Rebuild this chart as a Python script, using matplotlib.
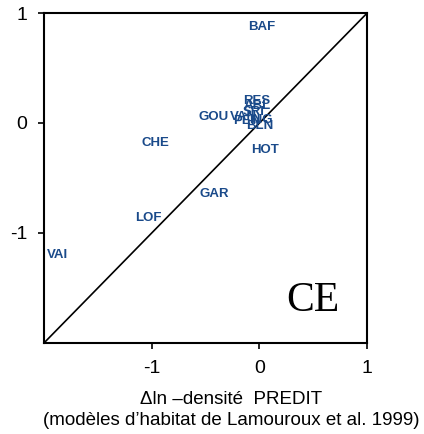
import matplotlib
matplotlib.use("Agg")
import matplotlib.pyplot as plt

plt.rcParams['font.family'] = ['Liberation Sans', 'DejaVu Sans']
plt.rcParams['axes.unicode_minus'] = False

labels = ['BAF', 'RES', 'ABL', 'SRI', 'VAN', 'PEN', 'ING', 'BLN', 'GOU',
          'CHE', 'HOT', 'GAR', 'LOF', 'VAI']
x_pred = [0.02, -0.03, -0.02, -0.05, -0.15, -0.12, 0.01, 0.0, -0.43,
          -0.97, 0.05, -0.42, -1.03, -1.88]
y_obs = [0.87, 0.20, 0.15, 0.10, 0.05, 0.02, 0.03, -0.03, 0.05,
         -0.18, -0.25, -0.65, -0.86, -1.20]

fig = plt.figure(figsize=(4.24, 4.34), dpi=100)
ax = fig.add_axes([0.104, 0.21, 0.762, 0.76])

ax.plot([-2, 1], [-2, 1], color='black', lw=1.2)
for lab, x, y in zip(labels, x_pred, y_obs):
    ax.text(x, y, lab, color='#1a4a8a', fontsize=9.5, fontweight='bold',
            ha='center', va='center')

ax.text(0.5, -1.62, 'CE', family='Liberation Serif', fontsize=30,
        ha='center', va='center')

ax.set_xlim(-2, 1)
ax.set_ylim(-2, 1)
ax.set_xticks([-1, 0, 1])
ax.set_yticks([-1, 0, 1])
ax.tick_params(direction='out', length=4, width=1.2, labelsize=14)
ax.tick_params(axis='x', pad=8)
ax.tick_params(axis='y', pad=8)
for s in ax.spines.values():
    s.set_linewidth(1.5)

ax.set_xlabel('\u0394ln \u2013densit\u00e9  PREDIT\n(mod\u00e8les d\u2019habitat de Lamouroux et al. 1999)',
              fontsize=13.5, linespacing=1.35)
ax.xaxis.set_label_coords(0.58, -0.145)

fig.savefig('out.png', dpi=100)
